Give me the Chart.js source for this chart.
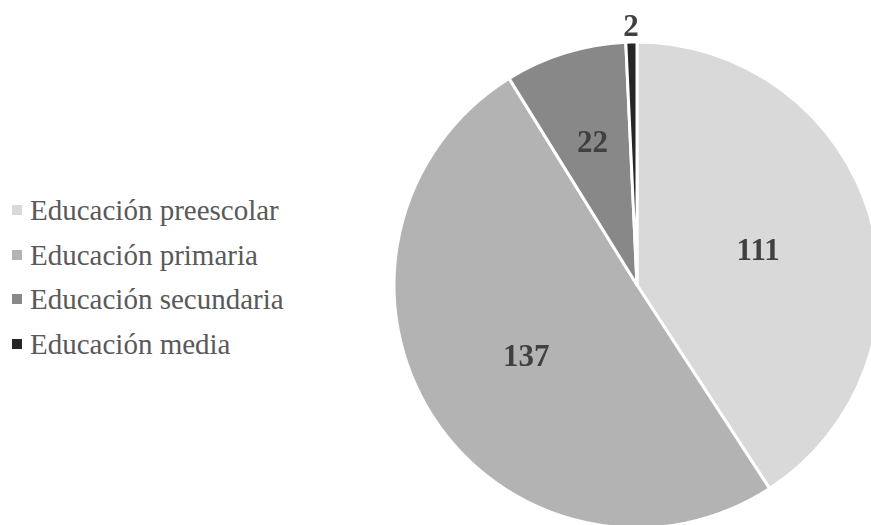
<!DOCTYPE html>
<html>
<head>
<meta charset="utf-8">
<script src="https://cdn.jsdelivr.net/npm/chart.js@4/dist/chart.umd.min.js"></script>
<style>
  html, body { margin: 0; padding: 0; width: 871px; height: 525px; overflow: hidden; background: #fff; }
  #legend { position: absolute; left: 12px; top: 188px; font-family: "Liberation Serif", "Times New Roman", serif; font-size: 29px; color: #595959; }
  #legend .item { height: 44.5px; line-height: 44.5px; white-space: nowrap; display: flex; align-items: center; }
  #legend .box { width: 10px; height: 10px; margin-right: 8px; }
  #wrap { position: absolute; left: 337px; top: -15px; width: 600px; height: 600px; }
</style>
</head>
<body>
<div id="legend"></div>
<div id="wrap"><canvas id="pie"></canvas></div>
<script>
const categories = ['Educación preescolar', 'Educación primaria', 'Educación secundaria', 'Educación media'];
const values = [111, 137, 22, 2];
const colors = ['#d9d9d9', '#b3b3b3', '#888888', '#262626'];

// how far out each value label sits, as a share of the radius
const labelRadius = [0.52, 0.54, 0.62, 1.07];

const legend = document.getElementById('legend');
categories.forEach((name, i) => {
    const item = document.createElement('div');
    item.className = 'item';
    item.innerHTML = `<span class="box" style="background:${colors[i]}"></span><span>${name}</span>`;
    legend.appendChild(item);
});

const valueLabels = {
    id: 'valueLabels',
    afterDatasetsDraw(chart) {
        const ctx = chart.ctx;
        const meta = chart.getDatasetMeta(0);
        ctx.save();
        ctx.font = 'bold 31px "Liberation Serif", "Times New Roman", serif';
        ctx.fillStyle = '#404040';
        ctx.textAlign = 'center';
        ctx.textBaseline = 'middle';
        meta.data.forEach((arc, i) => {
            const p = arc.getProps(['x', 'y', 'startAngle', 'endAngle', 'outerRadius'], true);
            const mid = (p.startAngle + p.endAngle) / 2;
            const r = p.outerRadius * labelRadius[i];
            ctx.fillText(String(values[i]), p.x + Math.cos(mid) * r, p.y + Math.sin(mid) * r + 3);
        });
        ctx.restore();
    }
};

new Chart(document.getElementById('pie'), {
    type: 'pie',
    data: {
        labels: categories,
        datasets: [{
            data: values,
            backgroundColor: colors,
            borderColor: '#ffffff',
            borderWidth: 3
        }]
    },
    options: {
        responsive: true,
        maintainAspectRatio: false,
        animation: false,
        radius: 243,
        layout: { padding: 0 },
        plugins: {
            legend: { display: false },
            tooltip: { enabled: false }
        }
    },
    plugins: [valueLabels]
});
</script>
</body>
</html>
